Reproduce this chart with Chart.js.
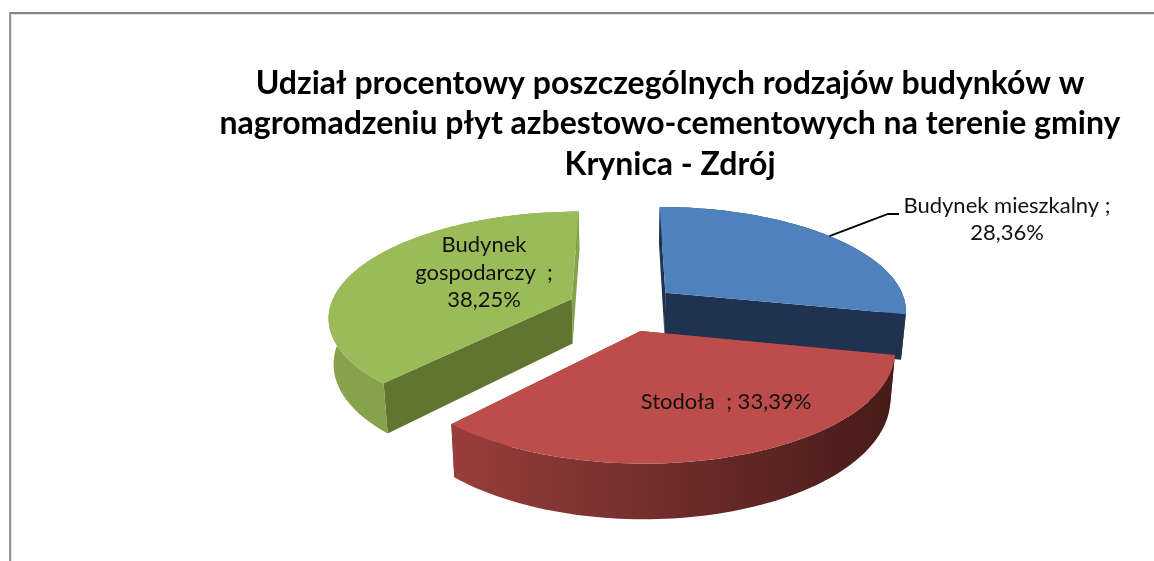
<!DOCTYPE html>
<html lang="pl">
<head>
<meta charset="utf-8">
<title>Krynica - Zdrój</title>
<script src="https://cdn.jsdelivr.net/npm/chart.js@4"></script>
<style>
  html, body { margin: 0; padding: 0; background: #fff; overflow: hidden; }
  #wrap { position: relative; width: 1154px; height: 561px; }
  #frame { position: absolute; left: 9px; top: 12px; right: 0; bottom: 0; border-top: 2px solid #868686; border-left: 2px solid #969696; box-shadow: inset 1px 1px 0 #e2e2e2; }
  canvas { position: absolute; left: 0; top: 0; }
</style>
</head>
<body>
<div id="wrap">
  <div id="frame"></div>
  <canvas id="chart" width="1154" height="561"></canvas>
</div>
<script>
const titleLines = [
    'Udział procentowy poszczególnych rodzajów budynków w',
    'nagromadzeniu płyt azbestowo-cementowych na terenie gminy',
    'Krynica - Zdrój'
];
const categories = ['Budynek mieszkalny', 'Stodoła', 'Budynek gospodarczy'];
const shares = [28.36, 33.39, 38.25];

// wyglad plastra: gora, sciany tnace, gradient sciany zewnetrznej
const sliceColors = ['#4F81BD', '#BC4D4B', '#9BBB59'];
const startWallColors = ['#1F3350', '#6B2A28', '#5F7530'];
const endWallColors = ['#1F3350', '#6B2A28', '#86A24B'];
const bandColors = [['#1F3350', '#1F3350'], ['#983E3C', '#461B19'], ['#86A24B', '#86A24B']];

// rzut perspektywiczny kola
const pie = { cx: 623, cy: 307.5, rx: 242, ry: 103.6, dist: 6.38, depth: 45, explode: 0.23, shrink: 0.983 };

function project(u, v, low) {
    const s = pie.dist / (pie.dist - v);
    const xs = low ? pie.shrink : 1;
    return { x: pie.cx + u * pie.rx * s * xs, y: pie.cy + v * pie.ry * s + (low ? pie.depth * s : 0) };
}

function slicePoint(arc, angle, r, low) {
    const mid = (arc.startAngle + arc.endAngle) / 2;
    const u = Math.cos(mid) * pie.explode + Math.cos(angle) * r;
    const v = Math.sin(mid) * pie.explode + Math.sin(angle) * r;
    return project(u, v, low);
}

function rimPoints(arc, low) {
    const pts = [];
    for (let i = 0; i <= 80; i++) {
        const a = arc.startAngle + (arc.endAngle - arc.startAngle) * i / 80;
        pts.push(slicePoint(arc, a, 1, low));
    }
    return pts;
}

function fillPoly(ctx, pts, fill) {
    ctx.beginPath();
    pts.forEach((p, i) => i ? ctx.lineTo(p.x, p.y) : ctx.moveTo(p.x, p.y));
    ctx.closePath();
    ctx.fillStyle = fill;
    ctx.fill();
}

function radialWall(ctx, arc, angle, color) {
    fillPoly(ctx, [
        slicePoint(arc, angle, 0, false),
        slicePoint(arc, angle, 1, false),
        slicePoint(arc, angle, 1, true),
        slicePoint(arc, angle, 0, true)
    ], color);
}

const pie3d = {
    id: 'pie3d',
    beforeDatasetDraw(chart) {
        const ctx = chart.ctx;
        const arcs = chart.getDatasetMeta(0).data.map((arc, i) => ({ arc, i }));
        arcs.sort((a, b) => Math.sin((a.arc.startAngle + a.arc.endAngle) / 2) - Math.sin((b.arc.startAngle + b.arc.endAngle) / 2));
        ctx.save();
        arcs.forEach(({ arc, i }) => {
            radialWall(ctx, arc, arc.endAngle, endWallColors[i]);
            radialWall(ctx, arc, arc.startAngle, startWallColors[i]);
            const top = rimPoints(arc, false);
            const low = rimPoints(arc, true);
            const xs = top.map(p => p.x);
            const grad = ctx.createLinearGradient(Math.min(...xs), 0, Math.max(...xs), 0);
            grad.addColorStop(0, bandColors[i][0]);
            grad.addColorStop(1, bandColors[i][1]);
            fillPoly(ctx, top.concat(low.reverse()), grad);
            fillPoly(ctx, [slicePoint(arc, arc.startAngle, 0, false)].concat(top), sliceColors[i]);
        });
        ctx.restore();
        return false;
    },
    afterDatasetsDraw(chart) {
        const ctx = chart.ctx;
        const first = chart.getDatasetMeta(0).data[0];
        const from = slicePoint(first, (first.startAngle + first.endAngle) / 2, 1, false);
        ctx.save();
        ctx.strokeStyle = '#000';
        ctx.lineWidth = 1.8;
        ctx.beginPath();
        ctx.moveTo(from.x, from.y);
        ctx.lineTo(888, 214);
        ctx.lineTo(899, 214);
        ctx.stroke();

        ctx.fillStyle = '#111';
        ctx.font = '22px Lato, Carlito, sans-serif';
        ctx.textAlign = 'center';
        ctx.textBaseline = 'middle';
        const text = shares.map(v => v.toFixed(2).replace('.', ',') + '%');
        const put = (lines, x, y, lh) => lines.forEach((l, n) => ctx.fillText(l, x, y + n * lh));
        put([categories[0] + ' ;', text[0]], 1007, 206, 27);
        put([categories[1] + '  ; ' + text[1]], 726, 402, 27);
        put(['Budynek', 'gospodarczy  ;', text[2]], 484, 245, 27.5);
        ctx.restore();
    }
};

new Chart(document.getElementById('chart'), {
    type: 'pie',
    data: {
        labels: categories,
        datasets: [{ data: shares, backgroundColor: sliceColors, borderWidth: 0 }]
    },
    options: {
        responsive: false,
        animation: false,
        layout: { padding: { left: 186 } },
        plugins: {
            legend: { display: false },
            tooltip: { enabled: false },
            title: {
                display: true,
                text: titleLines,
                fullSize: false,
                color: '#000',
                font: { family: 'Lato, Carlito, sans-serif', size: 32, weight: 'bold', lineHeight: 1.27 },
                padding: { top: 63, bottom: 0 }
            }
        }
    },
    plugins: [pie3d]
});
</script>
</body>
</html>
